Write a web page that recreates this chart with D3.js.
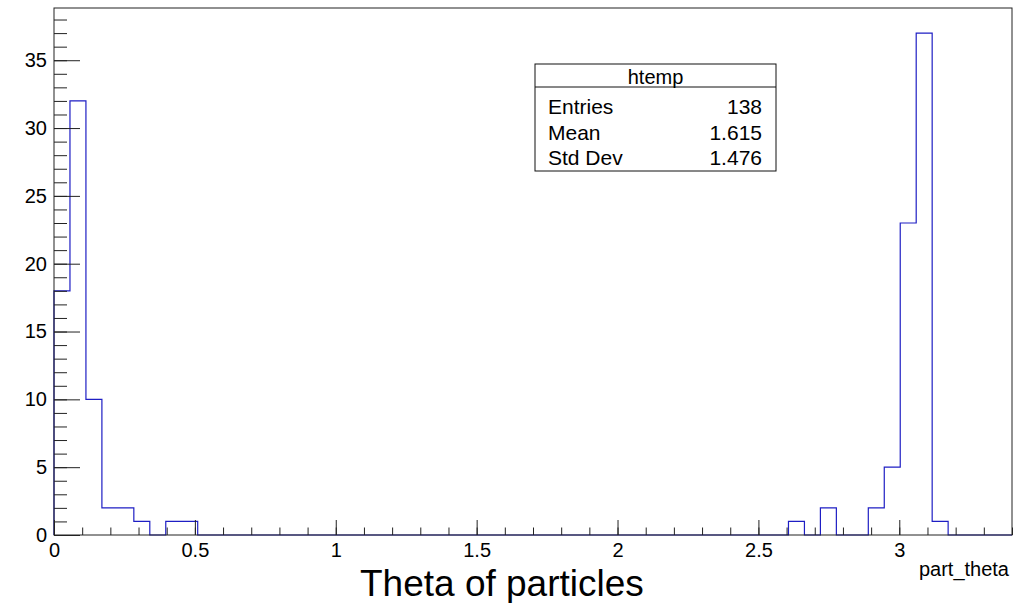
<!DOCTYPE html>
<html>
<head>
<meta charset="utf-8">
<script src="https://cdn.jsdelivr.net/npm/d3@7"></script>
<style>
  html, body { margin: 0; padding: 0; background: #fff; }
  svg { display: block; font-family: "Liberation Sans", Arial, Helvetica, sans-serif; }
</style>
</head>
<body>
<svg id="chart" width="1025" height="603"></svg>
<script>
// Histogram of part_theta: 60 equal bins from 0 to 3.4
const xMin = 0;
const xMax = 3.4;
const counts = [
  18, 32, 10, 2, 2, 1, 0, 1, 1, 0,
  0, 0, 0, 0, 0, 0, 0, 0, 0, 0,
  0, 0, 0, 0, 0, 0, 0, 0, 0, 0,
  0, 0, 0, 0, 0, 0, 0, 0, 0, 0,
  0, 0, 0, 0, 0, 0, 1, 0, 2, 0,
  0, 2, 5, 23, 37, 1, 0, 0, 0, 0
];
const yMajorTicks = [0, 5, 10, 15, 20, 25, 30, 35];
const xMajorTicks = [0, 0.5, 1, 1.5, 2, 2.5, 3];

const histName = "htemp";
const statLabels = ["Entries", "Mean", "Std Dev"];
const statValues = ["138", "1.615", "1.476"];

const xTitle = "part_theta";
const bottomTitle = "Theta of particles";

// Frame geometry
const frame = { left: 54, right: 1012, top: 8, bottom: 535 };
const yMax = d3.max(counts) * 1.05;

const svg = d3.select("#chart");
svg.append("rect").attr("width", 1025).attr("height", 603).attr("fill", "#fff");

const x = d3.scaleLinear().domain([xMin, xMax]).range([frame.left, frame.right]);
const y = d3.scaleLinear().domain([0, yMax]).range([frame.bottom, frame.top]);

// Step outline of the histogram
const nBins = counts.length;
const binW = (xMax - xMin) / nBins;
const verts = [[xMin, 0]];
counts.forEach((c, i) => {
  verts.push([xMin + i * binW, c]);
  verts.push([xMin + (i + 1) * binW, c]);
});
verts.push([xMax, 0]);

svg.append("path")
  .datum(verts)
  .attr("fill", "none")
  .attr("stroke", "#1e1ec4")
  .attr("stroke-width", 1.2)
  .attr("d", d3.line().x(d => x(d[0])).y(d => y(d[1])));

// Frame box
svg.append("rect")
  .attr("x", frame.left).attr("y", frame.top)
  .attr("width", frame.right - frame.left)
  .attr("height", frame.bottom - frame.top)
  .attr("fill", "none").attr("stroke", "#222").attr("stroke-width", 1);

const tickStyle = g => {
  g.select(".domain").remove();
  g.selectAll(".tick line").attr("stroke", "#222").attr("stroke-width", 1);
  g.selectAll(".tick text")
    .attr("fill", "#000")
    .style("font-size", "20px")
    .style("font-family", "'Liberation Sans', Arial, Helvetica, sans-serif");
};

// Y axis: minor ticks every 1, major every 5
svg.append("g")
  .attr("transform", `translate(${frame.left},0)`)
  .call(d3.axisLeft(y).tickValues(d3.range(0, Math.floor(yMax) + 1, 1)).tickSize(-13).tickFormat(""))
  .call(tickStyle);
svg.append("g")
  .attr("transform", `translate(${frame.left},0)`)
  .call(d3.axisLeft(y).tickValues(yMajorTicks).tickSize(-26).tickPadding(7).tickFormat(d3.format("~g")))
  .call(tickStyle);

// X axis: minor ticks every 0.1, major every 0.5
const xMinor = d3.range(0, 35).map(i => +(i * 0.1).toFixed(1)).filter(v => v <= xMax);
svg.append("g")
  .attr("transform", `translate(0,${frame.bottom})`)
  .call(d3.axisBottom(x).tickValues(xMinor).tickSize(-7.5).tickFormat(""))
  .call(tickStyle);
svg.append("g")
  .attr("transform", `translate(0,${frame.bottom})`)
  .call(d3.axisBottom(x).tickValues(xMajorTicks).tickSize(-15).tickPadding(8).tickFormat(d3.format("~g")))
  .call(tickStyle);

// Axis title at the right end of the x axis
svg.append("text")
  .attr("x", 1009).attr("y", 576)
  .attr("text-anchor", "end")
  .style("font-size", "20px")
  .text(xTitle);

// Large caption under the axis
svg.append("text")
  .attr("x", 360).attr("y", 596)
  .attr("text-anchor", "start")
  .style("font-size", "37px")
  .text(bottomTitle);

// Statistics box
const box = { x: 535, y: 64, w: 241, h: 107, header: 23 };
const stats = svg.append("g");
stats.append("rect")
  .attr("x", box.x).attr("y", box.y).attr("width", box.w).attr("height", box.h)
  .attr("fill", "#fff").attr("stroke", "#111").attr("stroke-width", 1);
stats.append("line")
  .attr("x1", box.x).attr("x2", box.x + box.w)
  .attr("y1", box.y + box.header).attr("y2", box.y + box.header)
  .attr("stroke", "#111").attr("stroke-width", 1);
stats.append("text")
  .attr("x", box.x + box.w / 2).attr("y", box.y + 20)
  .attr("text-anchor", "middle")
  .style("font-size", "20px")
  .text(histName);
const rowBase = [114, 140, 165];
statLabels.forEach((lab, i) => {
  stats.append("text")
    .attr("x", 548).attr("y", rowBase[i])
    .style("font-size", "21px")
    .text(lab);
  stats.append("text")
    .attr("x", 762).attr("y", rowBase[i])
    .attr("text-anchor", "end")
    .style("font-size", "21px")
    .text(statValues[i]);
});
</script>
</body>
</html>
